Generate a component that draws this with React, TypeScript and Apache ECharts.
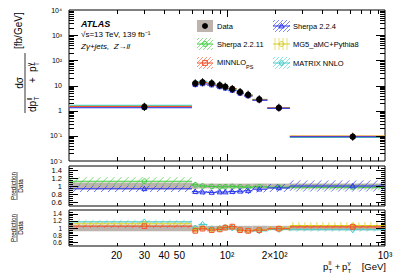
import React, { useEffect, useRef } from "react";
import * as echarts from "echarts";

// ---------------- data ----------------
const binLow = [10, 60, 66, 75, 85, 94, 102, 115, 128, 145, 180, 250];
const binHigh = [60, 66, 75, 85, 94, 102, 115, 128, 145, 180, 250, 1000];
const binCenter = [30, 63, 70, 80, 90, 97.5, 108, 121, 136, 160, 213, 625];
const dataXsec = [1.4, 12.2, 13.4, 12.2, 10.2, 8.95, 7.26, 5.52, 4.31, 2.83, 1.31, 0.092];
const dataRelUnc = [0.09, 0.07, 0.06, 0.06, 0.06, 0.06, 0.06, 0.06, 0.06, 0.06, 0.06, 0.06];

const sherpa2211Ratio = [1.12, 1.03, 1.0, 0.99, 0.98, 0.98, 0.99, 0.98, 0.97, 0.98, 0.97, 0.97];
const sherpa2211Unc = [0.1, 0.06, 0.06, 0.06, 0.06, 0.06, 0.06, 0.06, 0.06, 0.06, 0.07, 0.08];
const sherpa224Ratio = [0.93, 0.86, 0.85, 0.84, 0.85, 0.85, 0.86, 0.87, 0.88, 0.92, 0.95, 1.0];
const sherpa224Unc = [0.08, 0.07, 0.07, 0.07, 0.07, 0.07, 0.07, 0.07, 0.08, 0.08, 0.1, 0.14];
const minnloRatio = [1.05, 0.92, 0.98, 0.94, 0.96, 1.01, 1.04, 0.94, 0.92, 0.94, 0.98, 1.03];
const minnloUnc = [0.05, 0.04, 0.04, 0.04, 0.04, 0.04, 0.04, 0.04, 0.04, 0.04, 0.04, 0.05];
const mg5Ratio = [1.12, 0.95, 1.0, 0.96, 0.97, 1.02, 1.03, 0.95, 0.93, 0.95, 0.99, 1.07];
const mg5Unc = [0.06, 0.05, 0.05, 0.05, 0.05, 0.05, 0.05, 0.05, 0.05, 0.05, 0.06, 0.09];
const matrixRatio = [1.17, 1.0, 1.1, 0.98, 0.99, 1.02, 1.0, 0.95, 0.93, 0.92, 0.96, 0.95];
const matrixUnc = [0.05, 0.04, 0.04, 0.04, 0.04, 0.04, 0.04, 0.04, 0.04, 0.04, 0.04, 0.05];

const xTickLabels = [20, 30, 40, 50, 100, 200, 1000];
const mainYTickLabels = [0.01, 0.1, 1, 10, 100, 1000, 10000];
const ratioYTickLabels = [0.6, 0.8, 1, 1.2, 1.4];

// ---------------- styling ----------------
const FONT = "'Liberation Sans', Arial, Helvetica, sans-serif";
const GRAY = "#bdb5ad";

type Model = {
  name: string;
  ratio: number[];
  unc: number[];
  color: string;
  marker: string;
  hatch: string;
  step: number;
};

const mSherpa2211: Model = { name: "Sherpa 2.2.11", ratio: sherpa2211Ratio, unc: sherpa2211Unc, color: "#3ccc3c", marker: "circle", hatch: "/", step: 7 };
const mSherpa224: Model = { name: "Sherpa 2.2.4", ratio: sherpa224Ratio, unc: sherpa224Unc, color: "#2a35f0", marker: "triangle", hatch: "/", step: 7 };
const mMinnlo: Model = { name: "MINNLO", ratio: minnloRatio, unc: minnloUnc, color: "#f3532c", marker: "square", hatch: "/", step: 7 };
const mMg5: Model = { name: "MG5_aMC+Pythia8", ratio: mg5Ratio, unc: mg5Unc, color: "#d6cc1e", marker: "circle", hatch: "v", step: 6 };
const mMatrix: Model = { name: "MATRIX NNLO", ratio: matrixRatio, unc: matrixUnc, color: "#45cccc", marker: "diamond", hatch: "/", step: 7 };

// ---------------- drawing helpers ----------------
function lineEl(x1: number, y1: number, x2: number, y2: number, stroke: string, lw = 1) {
  return { type: "line", shape: { x1, y1, x2, y2 }, style: { stroke, lineWidth: lw } };
}

function hatchEls(kind: string, x0: number, x1: number, yTop: number, yBot: number, step: number, color: string, lw = 0.7) {
  const out: any[] = [];
  const h = yBot - yTop;
  if (h < 0.5 || x1 - x0 < 0.5) return out;
  if (kind === "v") {
    for (let x = x0 + step / 2; x < x1; x += step) out.push(lineEl(x, yTop, x, yBot, color, lw));
    return out;
  }
  const dx = h;
  for (let t = x0 - dx + step / 2; t < x1; t += step) {
    const u0 = Math.max(0, (x0 - t) / dx);
    const u1 = Math.min(1, (x1 - t) / dx);
    if (u1 - u0 < 1e-3) continue;
    const xa = t + u0 * dx;
    const xb = t + u1 * dx;
    if (kind === "/") out.push(lineEl(xa, yBot - u0 * h, xb, yBot - u1 * h, color, lw));
    else out.push(lineEl(xa, yTop + u0 * h, xb, yTop + u1 * h, color, lw));
  }
  return out;
}

function markerEl(kind: string, cx: number, cy: number, color: string, s = 2.4) {
  const style = { stroke: color, fill: "none", lineWidth: 1 };
  if (kind === "square") return { type: "rect", shape: { x: cx - s, y: cy - s, width: 2 * s, height: 2 * s }, style };
  if (kind === "triangle")
    return { type: "polygon", shape: { points: [[cx, cy - s * 1.1], [cx + s * 1.1, cy + s * 0.8], [cx - s * 1.1, cy + s * 0.8]] }, style };
  if (kind === "diamond")
    return { type: "polygon", shape: { points: [[cx, cy - s * 1.3], [cx + s, cy], [cx, cy + s * 1.3], [cx - s, cy]] }, style };
  return { type: "circle", shape: { cx, cy, r: s }, style };
}

// ---------------- tick series (axis decoration) ----------------
function decadeMinors(k0: number, k1: number) {
  const v: number[] = [];
  for (let k = k0; k <= k1; k++) for (let m = 2; m <= 9; m++) v.push(m * Math.pow(10, k));
  return v;
}

function tickData(gridKind: "main" | "ratio") {
  const items: number[][] = [];
  const refY = 1;
  const refX = 100;
  decadeMinors(1, 2).forEach((v) => items.push([v, refY, 0, gridKind === "main" ? 4 : 3]));
  items.push([100, refY, 0, gridKind === "main" ? 7 : 5]);
  if (gridKind === "main") {
    decadeMinors(-2, 3).forEach((v) => items.push([refX, v, 1, 5]));
    [0.1, 1, 10, 100, 1000].forEach((v) => items.push([refX, v, 1, 9]));
  } else {
    for (let i = 11; i <= 29; i++) {
      const v = i * 0.05;
      const major = i % 4 === 0;
      items.push([refX, v, 1, major ? 9 : 4]);
    }
  }
  return items;
}

function tickRender(params: any, api: any) {
  const cs = params.coordSys;
  const p = api.coord([api.value(0), api.value(1)]);
  const isX = api.value(2) === 0;
  const len = api.value(3);
  const children: any[] = [];
  if (isX) {
    const x = Math.round(p[0]) + 0.5;
    children.push(lineEl(x, cs.y + cs.height, x, cs.y + cs.height - len, "#000", 1));
    children.push(lineEl(x, cs.y, x, cs.y + len, "#000", 1));
  } else {
    const y = Math.round(p[1]) + 0.5;
    children.push(lineEl(cs.x, y, cs.x + len, y, "#000", 1));
    children.push(lineEl(cs.x + cs.width, y, cs.x + cs.width - len, y, "#000", 1));
  }
  return { type: "group", children };
}

// ---------------- series builders ----------------
function bandRender(params: any, api: any) {
  const p0 = api.coord([api.value(0), api.value(3)]);
  const p1 = api.coord([api.value(2), api.value(1)]);
  return {
    type: "rect",
    shape: { x: p0[0], y: p0[1], width: p1[0] - p0[0], height: Math.max(1, p1[1] - p0[1]) },
    style: { fill: GRAY },
  };
}

function modelRender(m: Model, showBand: boolean, ms: number) {
  return (params: any, api: any) => {
    const xc = api.value(0), y = api.value(1), lo = api.value(2), hi = api.value(3), ylo = api.value(4), yhi = api.value(5);
    const pc = api.coord([xc, y]);
    const xl = api.coord([lo, y])[0];
    const xr = api.coord([hi, y])[0];
    const children: any[] = [];
    if (showBand) {
      const yt = api.coord([lo, yhi])[1];
      const yb = api.coord([lo, ylo])[1];
      children.push(...hatchEls(m.hatch, xl, xr, yt, yb, m.step, m.color));
    }
    children.push(lineEl(xl, pc[1], xr, pc[1], m.color, 1.1));
    children.push(markerEl(m.marker, pc[0], pc[1], m.color, ms));
    return { type: "group", children };
  };
}

function modelSeries(m: Model, gridIndex: number, isMain: boolean) {
  const data = binCenter.map((xc, i) => {
    const v = isMain ? dataXsec[i] * m.ratio[i] : m.ratio[i];
    const lo = isMain ? v * (1 - m.unc[i]) : m.ratio[i] - m.unc[i];
    const hi = isMain ? v * (1 + m.unc[i]) : m.ratio[i] + m.unc[i];
    return [xc, v, binLow[i], binHigh[i], lo, hi];
  });
  return {
    type: "custom",
    name: m.name + gridIndex,
    xAxisIndex: gridIndex,
    yAxisIndex: gridIndex,
    encode: { x: 0, y: 1 },
    silent: true,
    renderItem: modelRender(m, !isMain, isMain ? 2 : 2.3),
    data,
  };
}

function dataBandSeries(gridIndex: number, isMain: boolean) {
  const data = binCenter.map((_, i) => {
    const v = isMain ? dataXsec[i] : 1;
    return [binLow[i], v * (1 - dataRelUnc[i]), binHigh[i], v * (1 + dataRelUnc[i])];
  });
  return {
    type: "custom",
    xAxisIndex: gridIndex,
    yAxisIndex: gridIndex,
    encode: { x: [0, 2], y: [1, 3] },
    silent: true,
    renderItem: bandRender,
    data,
  };
}

function tickSeries(gridIndex: number, kind: "main" | "ratio") {
  return {
    type: "custom",
    xAxisIndex: gridIndex,
    yAxisIndex: gridIndex,
    encode: { x: 0, y: 1 },
    silent: true,
    z: 10,
    renderItem: tickRender,
    data: tickData(kind),
  };
}

const dataPointSeries = {
  type: "custom",
  xAxisIndex: 0,
  yAxisIndex: 0,
  encode: { x: 0, y: 1 },
  silent: true,
  z: 5,
  renderItem: (params: any, api: any) => {
    const p = api.coord([api.value(0), api.value(1)]);
    const pHi = api.coord([api.value(0), api.value(3)]);
    const pLo = api.coord([api.value(0), api.value(2)]);
    return {
      type: "group",
      children: [
        lineEl(p[0], Math.min(pHi[1], p[1] - 4), p[0], Math.max(pLo[1], p[1] + 4), "#000", 1),
        { type: "circle", shape: { cx: p[0], cy: p[1], r: 3.2 }, style: { fill: "#000" } },
      ],
    };
  },
  data: binCenter.map((xc, i) => [xc, dataXsec[i], dataXsec[i] * (1 - dataRelUnc[i]), dataXsec[i] * (1 + dataRelUnc[i])]),
};

// ---------------- graphic texts / legend ----------------
function txt(text: string, x: number, y: number, size: number, extra: any = {}) {
  const align = extra.align || "left";
  const va = extra.verticalAlign || "middle";
  return {
    type: "text",
    x,
    y,
    silent: true,
    style: {
      text,
      fontSize: size,
      fontFamily: FONT,
      fontWeight: extra.fontWeight || "normal",
      fontStyle: extra.fontStyle || "normal",
      fill: "#000",
      align,
      textAlign: align,
      verticalAlign: va,
      textVerticalAlign: va,
    },
  };
}

function swatch(m: Model, x: number, y: number, w: number, h: number) {
  const els: any[] = [];
  els.push(...hatchEls(m.hatch, x, x + w, y, y + h, 4, m.color, 0.6));
  els.push(lineEl(x, y + h / 2, x + w, y + h / 2, m.color, 1));
  els.push(markerEl(m.marker, x + w / 2, y + h / 2, m.color, 2.4));
  return els;
}

const legendEls: any[] = [
  { type: "rect", shape: { x: 197, y: 20, width: 16, height: 12 }, style: { fill: GRAY } },
  { type: "circle", shape: { cx: 205, cy: 26, r: 3 }, style: { fill: "#000" } },
  txt("Data", 217, 26, 7.5),
  ...swatch(mSherpa2211, 197, 38, 16, 12),
  txt("Sherpa 2.2.11", 217, 44, 7.5),
  ...swatch(mMinnlo, 197, 57, 16, 12),
  txt("MINNLO", 217, 62, 7.5),
  txt("PS", 246, 66.5, 5.5),
  ...swatch(mSherpa224, 273, 20, 17, 12),
  txt("Sherpa 2.2.4", 293, 26, 7.5),
  ...swatch(mMg5, 273, 38, 17, 12),
  txt("MG5_aMC+Pythia8", 293, 44, 7.5),
  ...swatch(mMatrix, 273, 57, 17, 12),
  txt("MATRIX NNLO", 293, 63, 7.5),
];

const atlasEls: any[] = [
  txt("ATLAS", 81, 23.5, 9, { fontWeight: "bold", fontStyle: "italic" }),
  txt("√s=13 TeV, 139 fb⁻¹", 81, 34, 8),
  txt("Zγ+jets,  Z→ll", 81, 46.5, 8, { fontStyle: "italic" }),
];

const yTitle = {
  type: "group",
  x: 25,
  y: 83,
  rotation: Math.PI / 2,
  children: [
    txt("dσ", 0, -6, 10, { align: "center" }),
    lineEl(-30, 0, 30, 0, "#000", 0.8),
    txt("dp", -29, 7.5, 10),
    txt("ll", -17.5, 4.5, 6.5),
    txt("T", -17.5, 11, 6.5),
    txt("+", 3, 7.5, 10, { align: "center" }),
    txt("p", 11, 7.5, 10),
    txt("γ", 17, 4, 6.5),
    txt("T", 17, 11, 6.5),
    txt("[fb/GeV]", 34, -7, 10),
  ],
};

function ratioTitle(cy: number) {
  return {
    type: "group",
    x: 17,
    y: cy,
    rotation: Math.PI / 2,
    children: [
      txt("Prediction", 0, -3.5, 6.3, { align: "center" }),
      lineEl(-14, 0, 14, 0, "#000", 0.6),
      txt("Data", 0, 3.8, 6.3, { align: "center" }),
    ],
  };
}

const xTitleEls: any[] = [
  txt("p", 323, 266, 9.5),
  txt("ll", 328.6, 262, 6.2),
  txt("T", 328.6, 270, 6.2),
  txt("+", 337.5, 266, 9.5, { align: "center" }),
  txt("p", 342, 266, 9.5),
  txt("γ", 347.5, 262, 6.2),
  txt("T", 347.5, 270, 6.2),
  txt("[GeV]", 386, 266, 9.5, { align: "right" }),
];

// ---------------- option ----------------
const GRID_LEFT = 69;
const GRID_W = 316;

function gridDef(top: number, height: number) {
  return {
    left: GRID_LEFT,
    top,
    width: GRID_W,
    height,
    show: true,
    borderColor: "#000",
    borderWidth: 1,
    backgroundColor: "transparent",
    containLabel: false,
    outerBoundsMode: "none",
  };
}

function xAxisDef(gridIndex: number, labels: boolean) {
  return {
    type: "log",
    logBase: 10,
    gridIndex,
    min: 10,
    max: 1000,
    axisLine: { show: false },
    axisTick: { show: false },
    splitLine: { show: false },
    minorTick: { show: false },
    axisLabel: {
      show: labels,
      customValues: xTickLabels,
      fontSize: 10,
      fontFamily: FONT,
      color: "#000",
      margin: 4,
      formatter: (v: number) => {
        const r = Math.round(v);
        if (r === 100) return "10²";
        if (r === 200) return "2×10²";
        if (r === 1000) return "10³";
        return String(r);
      },
    },
  };
}

const supMap: Record<string, string> = { "-": "⁻", "1": "¹", "2": "²", "3": "³", "4": "⁴" };

function ratioYAxis(gridIndex: number, size: number) {
  return {
    type: "value",
    gridIndex,
    min: 0.5,
    max: 1.5,
    axisLine: { show: false },
    axisTick: { show: false },
    splitLine: { show: false },
    axisLabel: {
      customValues: ratioYTickLabels,
      fontSize: size,
      lineHeight: size,
      fontFamily: FONT,
      color: "#000",
      margin: 7,
      formatter: (v: number) => (Math.abs(v - 1) < 1e-6 ? "1" : v.toFixed(1)),
    },
  };
}

const option: any = {
  animation: false,
  backgroundColor: "#fff",
  grid: [gridDef(10, 151), gridDef(166, 40), gridDef(210, 36)],
  xAxis: [xAxisDef(0, false), xAxisDef(1, false), xAxisDef(2, true)],
  yAxis: [
    {
      type: "log",
      logBase: 10,
      gridIndex: 0,
      min: 0.01,
      max: 10000,
      axisLine: { show: false },
      axisTick: { show: false },
      splitLine: { show: false },
      axisLabel: {
        customValues: mainYTickLabels,
        fontSize: 7,
        fontFamily: FONT,
        color: "#000",
        margin: 7,
        formatter: (v: number) => {
          const e = Math.round(Math.log10(v));
          if (e === 0) return "1";
          if (e === 1) return "10";
          return "10" + String(e).split("").map((c) => supMap[c] || c).join("");
        },
      },
    },
    ratioYAxis(1, 7.5),
    ratioYAxis(2, 6.5),
  ],
  graphic: { elements: [...legendEls, ...atlasEls, yTitle, ratioTitle(186), ratioTitle(228), ...xTitleEls] },
  series: [
    dataBandSeries(0, true),
    dataBandSeries(1, false),
    dataBandSeries(2, false),
    modelSeries(mSherpa2211, 0, true),
    modelSeries(mMg5, 0, true),
    modelSeries(mMatrix, 0, true),
    modelSeries(mMinnlo, 0, true),
    modelSeries(mSherpa224, 0, true),
    modelSeries(mSherpa2211, 1, false),
    modelSeries(mSherpa224, 1, false),
    modelSeries(mMatrix, 2, false),
    modelSeries(mMg5, 2, false),
    modelSeries(mMinnlo, 2, false),
    dataPointSeries,
    tickSeries(0, "main"),
    tickSeries(1, "ratio"),
    tickSeries(2, "ratio"),
  ],
};

export default function App() {
  const ref = useRef<HTMLDivElement>(null);
  useEffect(() => {
    if (!ref.current) return;
    const chart = echarts.init(ref.current, undefined, { renderer: "svg" });
    chart.setOption(option);
    return () => chart.dispose();
  }, []);
  return <div ref={ref} style={{ position: "absolute", left: 0, top: 0, width: 407, height: 276 }} />;
}
